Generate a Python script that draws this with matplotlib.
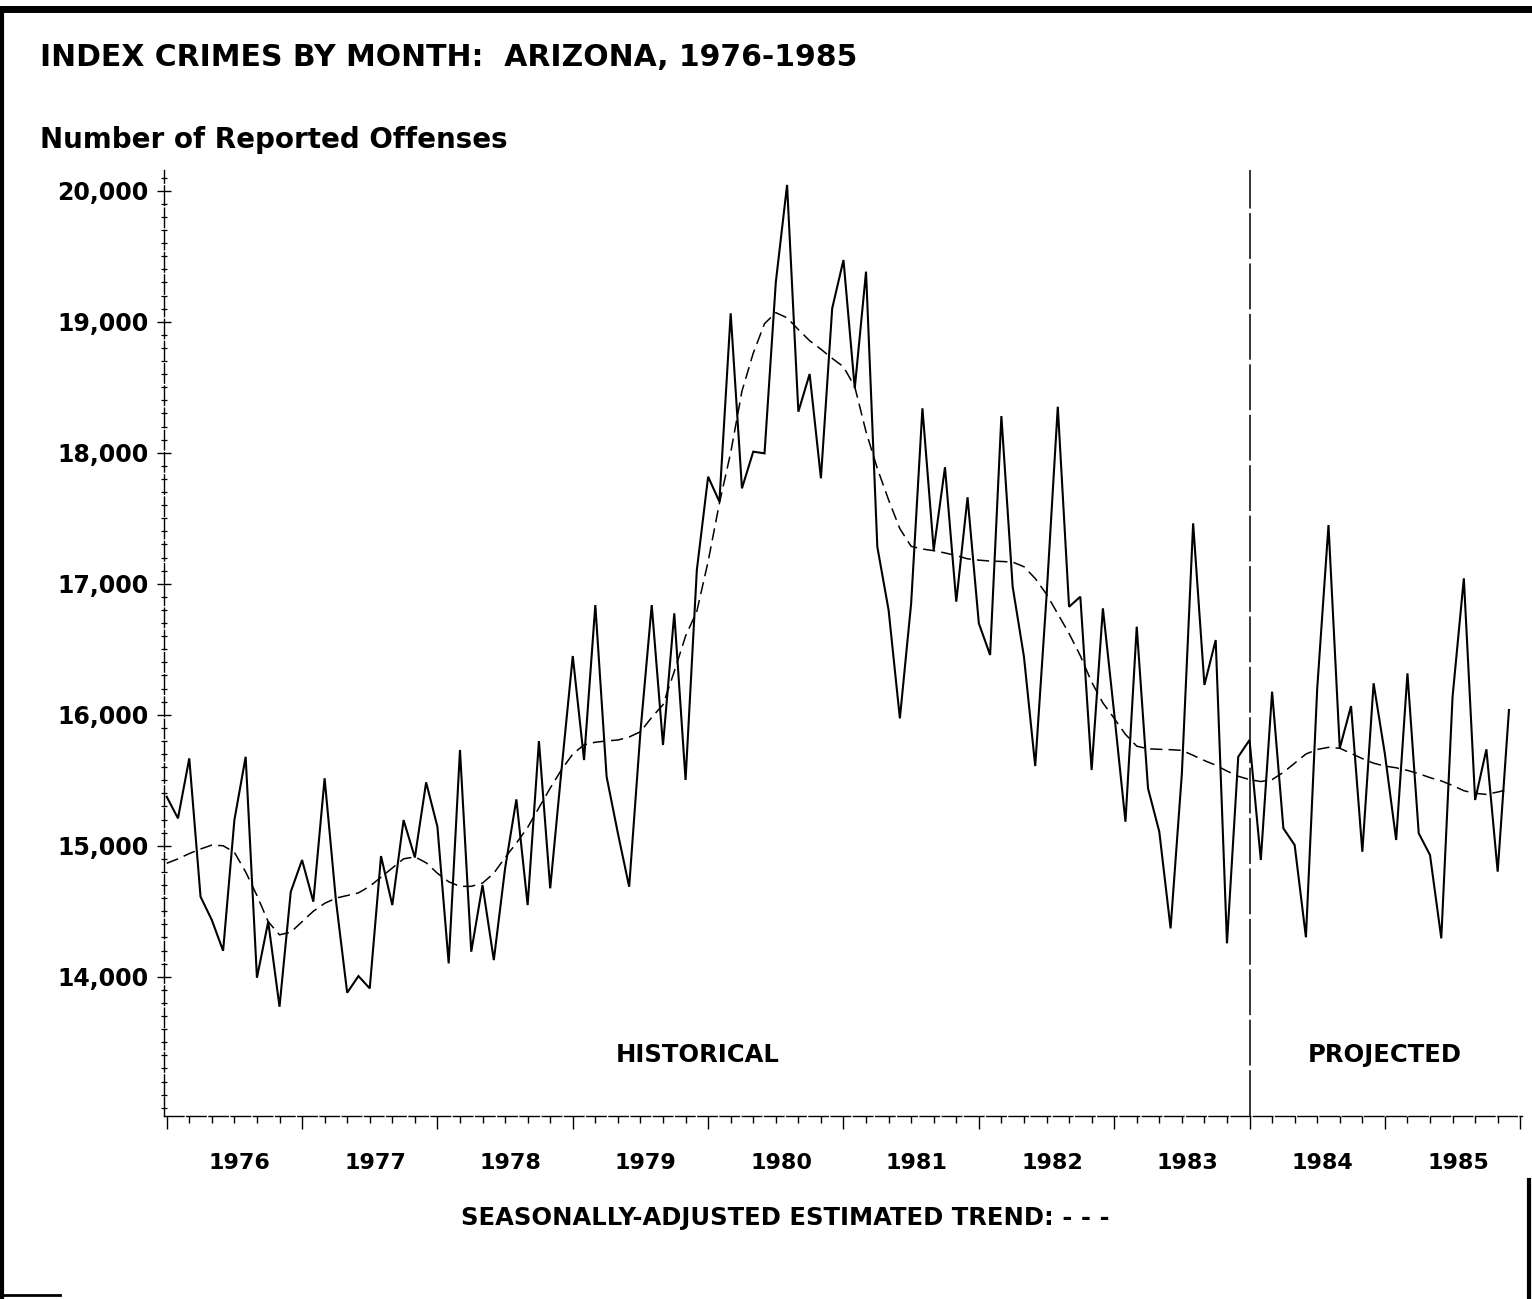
import numpy as np
import matplotlib
matplotlib.use("Agg")
import matplotlib.pyplot as plt
from matplotlib.ticker import FixedLocator
from matplotlib.lines import Line2D

# ---------------- data ----------------
start_year = 1976
n_months = 120
offenses = [
    15374, 15209, 15667, 14611, 14433, 14198, 15196, 15679, 13992, 14420, 13771, 14649,   # 1976
    14891, 14573, 15515, 14585, 13878, 14005, 13911, 14921, 14547, 15196, 14910, 15484,   # 1977
    15145, 14102, 15731, 14191, 14700, 14127, 14827, 15354, 14547, 15799, 14675, 15578,   # 1978
    16448, 15654, 16837, 15527, 15095, 14687, 15870, 16837, 15769, 16774, 15502, 17105,   # 1979
    17817, 17626, 19064, 17728, 18008, 17995, 19300, 20044, 18313, 18601, 17805, 19102,   # 1980
    19471, 18492, 19382, 17282, 16799, 15972, 16850, 18339, 17257, 17889, 16863, 17660,   # 1981
    16698, 16456, 18280, 16977, 16443, 15608, 16900, 18351, 16824, 16901, 15578, 16812,   # 1982
    16011, 15183, 16672, 15438, 15107, 14369, 15550, 17461, 16227, 16570, 14255, 15679,   # 1983
    15807, 14891, 16176, 15133, 15005, 14301, 16200, 17448, 15744, 16066, 14954, 16240,   # 1984
    15700, 15044, 16316, 15095, 14929, 14293, 16137, 17041, 15349, 15736, 14802, 16036,   # 1985
]
trend = [
    14866, 14900, 14940, 14975, 15005, 15000, 14950, 14800, 14620, 14420, 14320, 14340,
    14420, 14500, 14560, 14600, 14620, 14640, 14690, 14760, 14830, 14900, 14915, 14870,
    14790, 14725, 14690, 14690, 14715, 14790, 14910, 15020, 15140, 15290, 15440, 15580,
    15700, 15770, 15790, 15800, 15807, 15830, 15870, 15980, 16076, 16330, 16600, 16790,
    17170, 17614, 18000, 18470, 18760, 18985, 19069, 19030, 18940, 18855, 18790, 18720,
    18656, 18504, 18160, 17880, 17640, 17420, 17285, 17265, 17252, 17235, 17215, 17190,
    17180, 17173, 17170, 17165, 17130, 17040, 16920, 16770, 16620, 16450, 16250, 16090,
    15973, 15850, 15760, 15740, 15736, 15733, 15728, 15690, 15650, 15615, 15570, 15530,
    15505, 15490, 15505, 15560, 15630, 15700, 15735, 15751, 15744, 15705, 15665, 15630,
    15608, 15595, 15575, 15550, 15520, 15495, 15460, 15420, 15400, 15392, 15410, 15430,
]
year_labels = ["1976", "1977", "1978", "1979", "1980", "1981", "1982", "1983", "1984", "1985"]
y_major = [14000, 15000, 16000, 17000, 18000, 19000, 20000]
y_labels = ["14,000", "15,000", "16,000", "17,000", "18,000", "19,000", "20,000"]
projection_start = 1984.0

title = "INDEX CRIMES BY MONTH:  ARIZONA, 1976-1985"
ylabel_text = "Number of Reported Offenses"
footer = "SEASONALLY-ADJUSTED ESTIMATED TREND: - - -"

# ---------------- figure ----------------
W, H = 1532, 1299
fig = plt.figure(figsize=(W / 100, H / 100), dpi=100)
fig.patch.set_facecolor("white")
plt.rcParams["font.family"] = ["DejaVu Sans"]

ax_l, ax_r, ax_t, ax_b = 164, 1522, 170, 1116
ax = fig.add_axes([ax_l / W, 1 - ax_b / H, (ax_r - ax_l) / W, (ax_b - ax_t) / H])

t = start_year + np.arange(n_months) / 12.0
ax.plot(t, offenses, color="black", lw=1.5, solid_joinstyle="miter")
ax.plot(t, trend, color="black", lw=1.1, dashes=(8, 4))

ax.set_xlim(1975.980, 1986.013)
ax.set_ylim(12937, 20158)

# divider line between historical and projected
ax.axvline(projection_start, color="black", lw=1.1, dashes=(30, 3))

# spines
for s in ["top", "right"]:
    ax.spines[s].set_visible(False)
for s in ["left", "bottom"]:
    ax.spines[s].set_linewidth(1.0)
    ax.spines[s].set_linestyle((0, (14, 2)))

# x ticks: years major, 2-month minor
years = np.arange(1976, 1987)
ax.xaxis.set_major_locator(FixedLocator(years))
ax.xaxis.set_minor_locator(FixedLocator(1976 + np.arange(0, 121, 2) / 12.0))
ax.tick_params(axis="x", which="major", direction="out", length=9, width=1.0, labelbottom=False)
ax.tick_params(axis="x", which="minor", direction="out", length=5, width=1.0)

# y ticks
ax.yaxis.set_major_locator(FixedLocator(y_major))
ax.set_yticklabels(y_labels)
ax.yaxis.set_minor_locator(FixedLocator(np.arange(13000, 20101, 100)))
ax.tick_params(axis="y", which="major", direction="inout", length=10, width=1.0, pad=6,
               labelsize=17)
ax.tick_params(axis="y", which="minor", direction="inout", length=5, width=0.9)
for lab in ax.get_yticklabels():
    lab.set_fontweight("bold")

# year labels centered in each year
for i, yl in enumerate(year_labels):
    ax.text(int(yl) + 0.54, -0.05, yl, transform=ax.get_xaxis_transform(),
            ha="center", va="center", fontsize=16, fontweight="bold")

# section labels
ax.text(1979.92, 13402, "HISTORICAL", ha="center", va="center", fontsize=17.5, fontweight="bold")
ax.text(1985.0, 13402, "PROJECTED", ha="center", va="center", fontsize=17.5, fontweight="bold")

# titles
fig.text(40 / W, 1 - 58 / H, title, ha="left", va="center", fontsize=21.5, fontweight="bold")
fig.text(40 / W, 1 - 140 / H, ylabel_text, ha="left", va="center", fontsize=20, fontweight="bold")
fig.text(785 / W, 1 - 1218 / H, footer, ha="center", va="center", fontsize=17.5, fontweight="bold")

# page frame
def fline(x0, y0, x1, y1, lw):
    fig.add_artist(Line2D([x0 / W, x1 / W], [1 - y0 / H, 1 - y1 / H],
                          transform=fig.transFigure, color="black", lw=lw))

fline(0, 9, W, 9, 5)
fline(2, 9, 2, H, 3)
fline(1529, 1180, 1529, H, 3)
fline(0, 1295, 60, 1295, 2)

fig.savefig("out.png", dpi=100, facecolor="white")
